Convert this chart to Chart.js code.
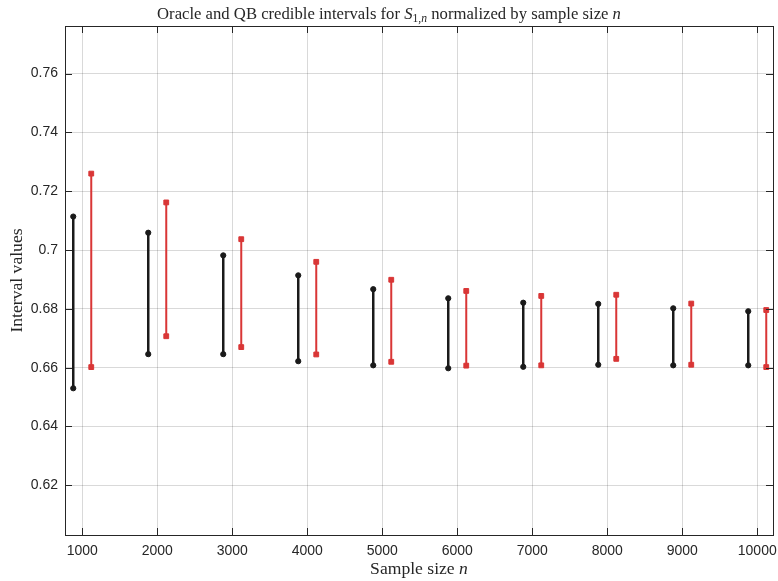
<!DOCTYPE html>
<html>
<head>
<meta charset="utf-8">
<script src="https://cdn.jsdelivr.net/npm/chart.js@4/dist/chart.umd.min.js"></script>
<style>
  html, body { margin: 0; padding: 0; background: #ffffff; }
  #wrap { width: 778px; height: 581px; }
</style>
</head>
<body>
<div id="wrap"><canvas id="chart" width="778" height="581"></canvas></div>
<script>
// Sample sizes n and the credible-interval endpoints at each n
const sampleSizes = [1000, 2000, 3000, 4000, 5000, 6000, 7000, 8000, 9000, 10000];
const oracleLower = [0.6530, 0.6646, 0.6646, 0.6622, 0.6608, 0.6598, 0.6603, 0.6610, 0.6608, 0.6608];
const oracleUpper = [0.7114, 0.7059, 0.6982, 0.6914, 0.6867, 0.6836, 0.6821, 0.6817, 0.6802, 0.6792];
const qbLower     = [0.6602, 0.6707, 0.6670, 0.6645, 0.6620, 0.6607, 0.6608, 0.6630, 0.6610, 0.6602];
const qbUpper     = [0.7260, 0.7162, 0.7037, 0.6960, 0.6899, 0.6861, 0.6844, 0.6848, 0.6818, 0.6796];

// Axis ticks
const xTicks = [1000, 2000, 3000, 4000, 5000, 6000, 7000, 8000, 9000, 10000];
const yTicks = [0.62, 0.64, 0.66, 0.68, 0.70, 0.72, 0.74, 0.76];
const yTickLabels = ['0.62', '0.64', '0.66', '0.68', '0.7', '0.72', '0.74', '0.76'];

// Horizontal shift that places the two intervals side by side around each n
const pairShift = 120;

// Each interval becomes two points joined by a line, with a null break before the next one
function intervalPoints(xs, lo, hi, shift) {
  const pts = [];
  xs.forEach((n, i) => {
    pts.push({ x: n + shift, y: lo[i] });
    pts.push({ x: n + shift, y: hi[i] });
    pts.push({ x: n + shift, y: null });
  });
  return pts;
}

const TEXT = '#262626';
const FRAME = '#262626';
const GRID = 'rgba(0,0,0,0.15)';
const BLACK = '#1a1a1a';
const RED = '#d93636';
const TICK_FONT = { family: '"Liberation Sans", Arial, Helvetica, sans-serif', size: 14 };
const SERIF = '"Liberation Serif", "Times New Roman", serif';

// Draws the title, axis titles (with math italics), the box frame and inward tick marks
const framePlugin = {
  id: 'frameAndTitles',
  afterDraw(chart) {
    const { ctx, chartArea: a, scales } = chart;
    const xs = scales.x, ys = scales.y;
    ctx.save();

    // box frame
    ctx.strokeStyle = FRAME;
    ctx.lineWidth = 1;
    ctx.strokeRect(Math.round(a.left) + 0.5, Math.round(a.top) + 0.5,
                   Math.round(a.right - a.left), Math.round(a.bottom - a.top));

    // inward tick marks on all four sides
    const len = 7;
    ctx.beginPath();
    xTicks.forEach(v => {
      const px = Math.round(xs.getPixelForValue(v)) + 0.5;
      ctx.moveTo(px, a.bottom); ctx.lineTo(px, a.bottom - len);
      ctx.moveTo(px, a.top); ctx.lineTo(px, a.top + len);
    });
    yTicks.forEach(v => {
      const py = Math.round(ys.getPixelForValue(v)) + 0.5;
      ctx.moveTo(a.left, py); ctx.lineTo(a.left + len, py);
      ctx.moveTo(a.right, py); ctx.lineTo(a.right - len, py);
    });
    ctx.stroke();

    // rich text helper: segments with optional italic, size scale and baseline shift;
    // stretch widens the serif face slightly horizontally
    function drawRich(segs, cx, cy, size, stretch) {
      const parts = segs.map(s => {
        const fs = size * (s.scale || 1);
        const font = (s.italic ? 'italic ' : '') + fs + 'px ' + SERIF;
        ctx.font = font;
        return { text: s.text, font, w: ctx.measureText(s.text).width, dy: s.dy || 0 };
      });
      const total = parts.reduce((t, p) => t + p.w, 0);
      ctx.save();
      ctx.translate(cx, cy);
      ctx.scale(stretch, 1);
      let x = -total / 2;
      ctx.textBaseline = 'alphabetic';
      ctx.textAlign = 'left';
      parts.forEach(p => {
        ctx.font = p.font;
        ctx.fillText(p.text, x, p.dy);
        x += p.w;
      });
      ctx.restore();
    }

    ctx.fillStyle = TEXT;
    const midX = (a.left + a.right) / 2;

    // chart title, centred on the whole figure
    drawRich([
      { text: 'Oracle and QB credible intervals for ' },
      { text: 'S', italic: true },
      { text: '1,', scale: 0.7, dy: 3 },
      { text: 'n', italic: true, scale: 0.7, dy: 3 },
      { text: ' normalized by sample size ' },
      { text: 'n', italic: true }
    ], chart.width / 2, 18.5, 16.5, 1.01);

    // x-axis title
    drawRich([
      { text: 'Sample size ' },
      { text: 'n', italic: true }
    ], midX, 574, 16, 1.1);

    // y-axis title
    ctx.save();
    ctx.translate(22, (a.top + a.bottom) / 2);
    ctx.rotate(-Math.PI / 2);
    drawRich([{ text: 'Interval values' }], 0, 0, 16, 1.1);
    ctx.restore();

    ctx.restore();
  }
};

new Chart(document.getElementById('chart'), {
  type: 'line',
  data: {
    datasets: [
      {
        label: 'Oracle',
        data: intervalPoints(sampleSizes, oracleLower, oracleUpper, -pairShift),
        borderColor: BLACK,
        backgroundColor: BLACK,
        borderWidth: 2.5,
        pointStyle: 'circle',
        pointRadius: 2.6,
        pointBorderWidth: 1,
        pointBackgroundColor: BLACK,
        pointBorderColor: BLACK,
        spanGaps: false,
        tension: 0
      },
      {
        label: 'QB',
        data: intervalPoints(sampleSizes, qbLower, qbUpper, pairShift),
        borderColor: RED,
        backgroundColor: RED,
        borderWidth: 2,
        pointStyle: 'rect',
        pointRadius: 3.4,
        pointBorderWidth: 1,
        pointBackgroundColor: RED,
        pointBorderColor: RED,
        spanGaps: false,
        tension: 0
      }
    ]
  },
  options: {
    responsive: false,
    animation: false,
    devicePixelRatio: 1,
    layout: { padding: { left: 0, right: 5, top: 26, bottom: 0 } },
    plugins: {
      legend: { display: false },
      title: { display: false },
      tooltip: { enabled: false }
    },
    scales: {
      x: {
        type: 'linear',
        min: 770,
        max: 10210,
        afterBuildTicks: s => { s.ticks = xTicks.map(v => ({ value: v })); },
        afterFit: s => { s.height = 46; s.paddingLeft = 0; s.paddingRight = 0; },
        ticks: {
          callback: v => String(v),
          font: TICK_FONT,
          color: TEXT,
          padding: 8,
          maxRotation: 0,
          autoSkip: false
        },
        grid: { color: GRID, lineWidth: 1, drawTicks: false },
        border: { display: false }
      },
      y: {
        type: 'linear',
        min: 0.6031,
        max: 0.7762,
        afterBuildTicks: s => { s.ticks = yTicks.map(v => ({ value: v })); },
        afterFit: s => { s.width = 65; s.paddingTop = 0; s.paddingBottom = 0; },
        ticks: {
          callback: v => yTickLabels[yTicks.findIndex(t => Math.abs(t - v) < 1e-9)],
          font: TICK_FONT,
          color: TEXT,
          padding: 7,
          autoSkip: false
        },
        grid: { color: GRID, lineWidth: 1, drawTicks: false },
        border: { display: false }
      }
    }
  },
  plugins: [framePlugin]
});
</script>
</body>
</html>
